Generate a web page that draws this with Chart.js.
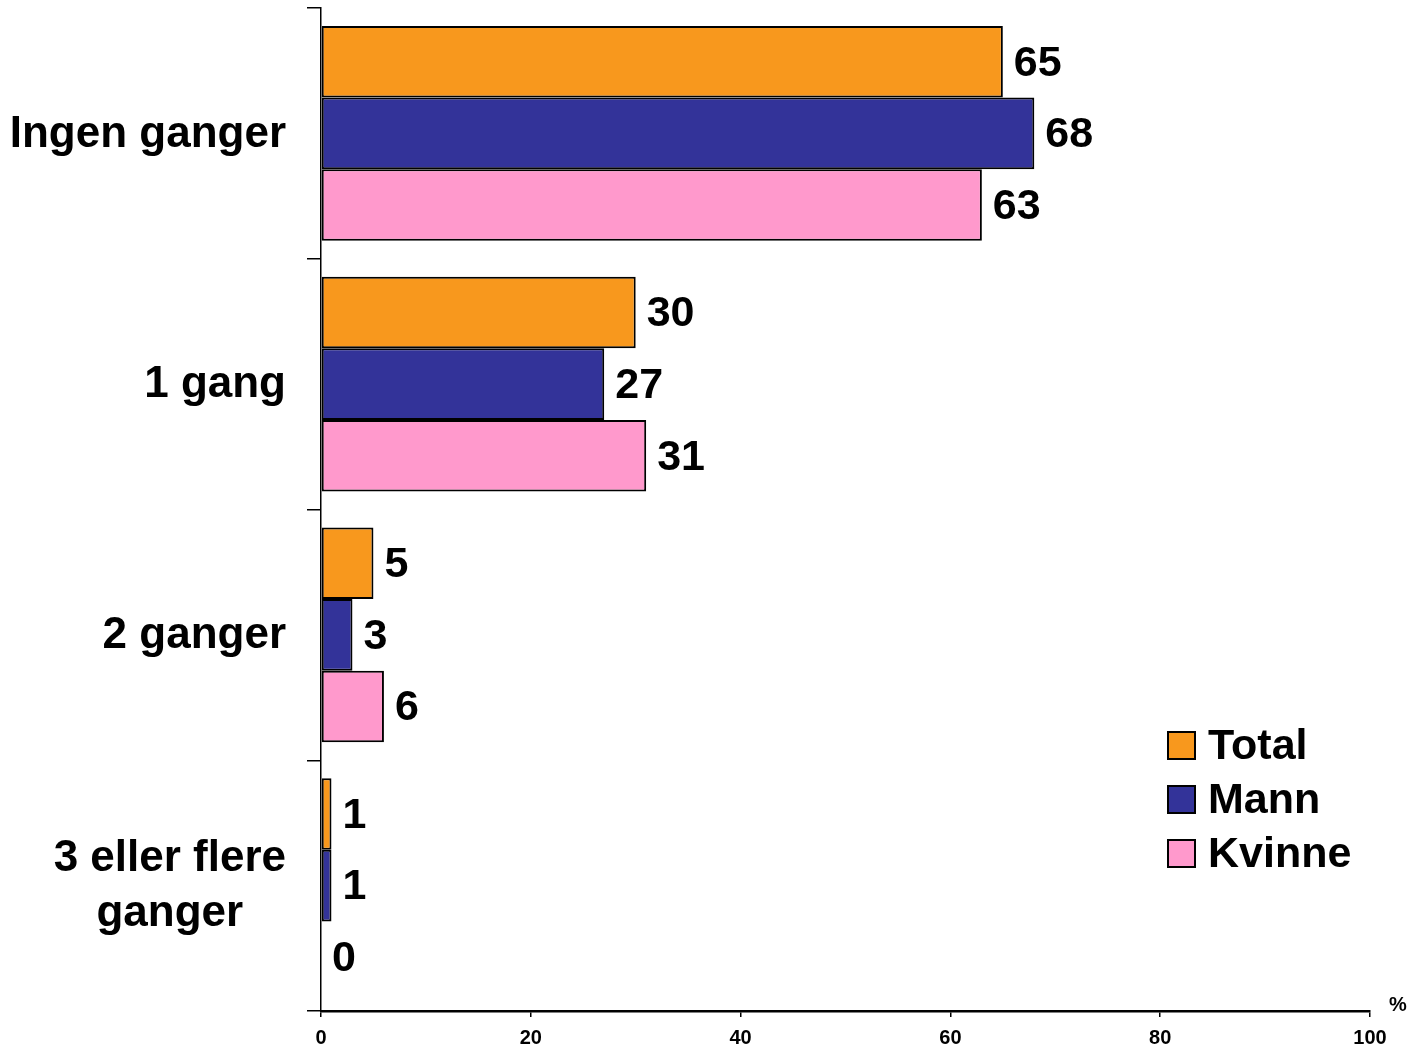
<!DOCTYPE html>
<html>
<head>
<meta charset="utf-8">
<script src="https://cdn.jsdelivr.net/npm/chart.js@4"></script>
<style>
  html, body { margin: 0; padding: 0; background: #fff; }
  canvas { display: block; }
</style>
</head>
<body>
<canvas id="chart" width="1416" height="1048"></canvas>
<script>
const categories = [["Ingen ganger"], ["1 gang"], ["2 ganger"], ["3 eller flere", "ganger"]];
const seriesNames = ["Total", "Mann", "Kvinne"];
const total = [65, 30, 5, 1];
const mann = [68, 27, 3, 1];
const kvinne = [63, 31, 6, 0];
const xTicks = [0, 20, 40, 60, 80, 100];
const colors = ["#F8981D", "#333399", "#FF99CC"];

const bigFont = "bold 43px 'Liberation Sans', Arial, sans-serif";
const catFont = "bold 44px 'Liberation Sans', Arial, sans-serif";

// value labels next to the bars
const valueLabels = {
    id: "valueLabels",
    afterDatasetsDraw(chart) {
        const ctx = chart.ctx;
        ctx.save();
        ctx.font = bigFont;
        ctx.fillStyle = "#000";
        ctx.textAlign = "left";
        ctx.textBaseline = "middle";
        chart.data.datasets.forEach((ds, i) => {
            chart.getDatasetMeta(i).data.forEach((bar, j) => {
                ctx.fillText(String(ds.data[j]), bar.x + 11, bar.y + 2);
            });
        });
        ctx.restore();
    }
};

// category labels, right edge fixed, multi-line centered
const categoryLabels = {
    id: "categoryLabels",
    afterDraw(chart) {
        const ctx = chart.ctx;
        const y = chart.scales.y;
        const right = 286;
        const lineH = 55;
        ctx.save();
        ctx.font = catFont;
        ctx.fillStyle = "#000";
        ctx.textAlign = "center";
        ctx.textBaseline = "middle";
        categories.forEach((lines, i) => {
            const w = Math.max(...lines.map(l => ctx.measureText(l).width));
            const cy = y.getPixelForValue(i);
            const y0 = cy - (lines.length - 1) * lineH / 2;
            lines.forEach((l, k) => ctx.fillText(l, right - w / 2, y0 + k * lineH + 1));
        });
        // unit label
        ctx.font = "bold 20px 'Liberation Sans Narrow', 'Liberation Sans', Arial, sans-serif";
        ctx.fillText("%", 1398, 1005);
        ctx.restore();
    }
};

// legend in the lower right
const boxLegend = {
    id: "boxLegend",
    afterDraw(chart) {
        const ctx = chart.ctx;
        ctx.save();
        ctx.font = bigFont;
        ctx.textAlign = "left";
        ctx.textBaseline = "middle";
        seriesNames.forEach((name, i) => {
            const cy = 746 + i * 54;
            ctx.fillStyle = colors[i];
            ctx.fillRect(1168, cy - 14, 27, 27);
            ctx.lineWidth = 2;
            ctx.strokeStyle = "#000";
            ctx.strokeRect(1168, cy - 14, 27, 27);
            ctx.fillStyle = "#000";
            ctx.fillText(name, 1208, cy + 1);
        });
        ctx.restore();
    }
};

new Chart(document.getElementById("chart"), {
    type: "bar",
    data: {
        labels: categories,
        datasets: [
            { label: seriesNames[0], data: total, backgroundColor: colors[0] },
            { label: seriesNames[1], data: mann, backgroundColor: colors[1] },
            { label: seriesNames[2], data: kvinne, backgroundColor: colors[2] }
        ].map(d => Object.assign(d, {
            borderColor: "#000",
            borderWidth: 2,
            borderSkipped: false,
            categoryPercentage: 0.857,
            barPercentage: 1.0
        }))
    },
    options: {
        indexAxis: "y",
        responsive: false,
        animation: false,
        layout: { padding: { top: 8, right: 46, left: 0, bottom: 0 } },
        plugins: {
            legend: { display: false },
            tooltip: { enabled: false }
        },
        scales: {
            x: {
                min: 0,
                max: 100,
                afterBuildTicks(scale) {
                    scale.ticks = xTicks.map(v => ({ value: v }));
                },
                ticks: {
                    color: "#000",
                    padding: 9,
                    maxRotation: 0,
                    font: { family: "'Liberation Sans Narrow', 'Liberation Sans', Arial, sans-serif", size: 20, weight: "bold" }
                },
                grid: { drawOnChartArea: false, drawTicks: true, tickLength: 6, color: "#000", lineWidth: 1.5 },
                border: { color: "#000", width: 2.5 },
                afterFit(scale) { scale.height = 37; }
            },
            y: {
                ticks: { display: false },
                grid: { offset: true, drawOnChartArea: false, drawTicks: true, tickLength: 14, color: "#000", lineWidth: 1.5 },
                border: { color: "#000", width: 1.5 },
                afterFit(scale) { scale.width = 321; }
            }
        }
    },
    plugins: [valueLabels, categoryLabels, boxLegend]
});
</script>
</body>
</html>
